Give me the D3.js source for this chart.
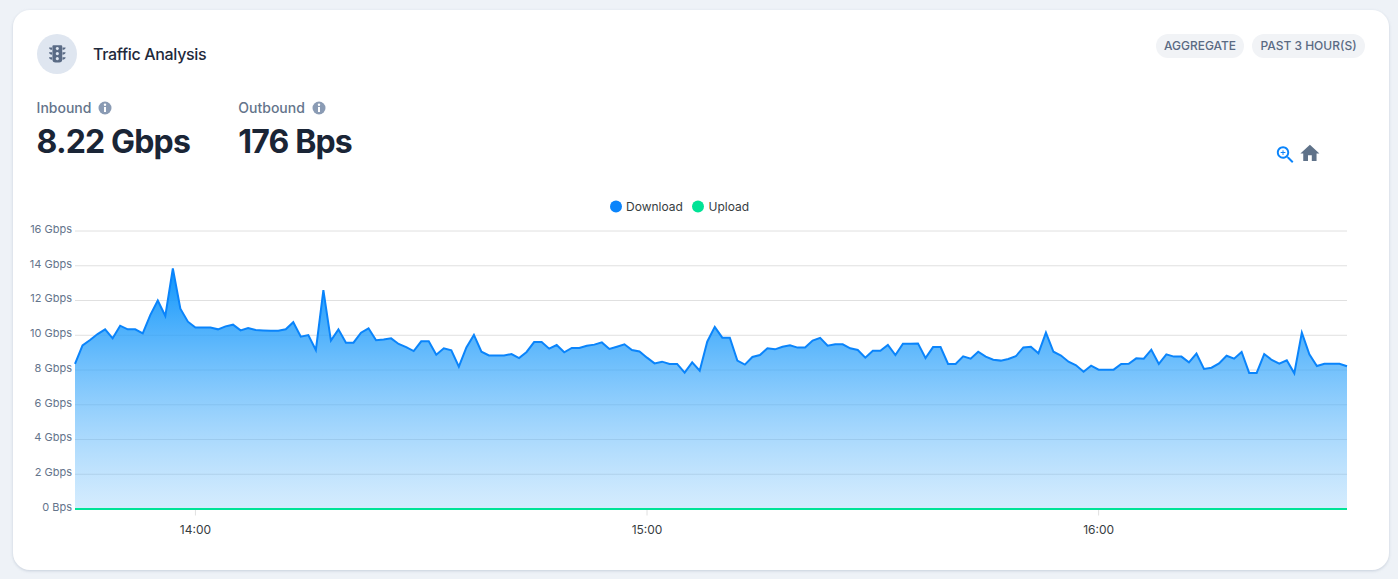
<!DOCTYPE html>
<html><head><meta charset="utf-8">
<script src="https://cdnjs.cloudflare.com/ajax/libs/d3/7.8.5/d3.min.js"></script>
<style>
html,body{margin:0;padding:0;background:#eef2f7;overflow:hidden}
svg{display:block;font-family:Inter,"Noto Sans",sans-serif}
</style></head><body>
<svg id="c" width="1398" height="579"></svg>
<script>
const title = "Traffic Analysis";
const pills = ["AGGREGATE", "PAST 3 HOUR(S)"];
const statLabels = ["Inbound", "Outbound"];
const statValues = ["8.22 Gbps", "176 Bps"];
const seriesNames = ["Download", "Upload"];
const seriesColors = ["#0a84fb", "#00e396"];
const yTickValues = [0, 2, 4, 6, 8, 10, 12, 14, 16];
const yTickLabels = ["0 Bps", "2 Gbps", "4 Gbps", "6 Gbps", "8 Gbps", "10 Gbps", "12 Gbps", "14 Gbps", "16 Gbps"];
const xTickTimes = ["14:00", "15:00", "16:00"];
const firstTime = "13:44";
const lastTime = "16:33";
const download = [
8.35,9.42,9.73,10.07,10.34,9.82,10.55,10.34,10.34,10.11,11.16,12.0,11.11,13.85,11.53,10.78,10.44,10.44,10.44,10.34,
10.51,10.61,10.28,10.42,10.30,10.28,10.26,10.26,10.34,10.75,9.92,10.01,9.15,12.6,9.69,10.34,9.57,9.57,10.15,10.4,
9.71,9.76,9.82,9.50,9.32,9.09,9.65,9.65,8.88,9.25,9.13,8.19,9.30,10.02,9.05,8.84,8.84,8.84,8.92,8.69,
9.04,9.61,9.61,9.23,9.44,9.02,9.27,9.27,9.40,9.46,9.59,9.21,9.34,9.48,9.15,9.07,8.71,8.38,8.48,8.35,
8.35,7.85,8.44,7.96,9.63,10.48,9.86,9.86,8.54,8.31,8.75,8.86,9.25,9.19,9.34,9.42,9.29,9.29,9.69,9.85,
9.40,9.48,9.48,9.25,9.15,8.71,9.11,9.11,9.44,8.86,9.51,9.51,9.53,8.69,9.32,9.32,8.35,8.35,8.79,8.65,
9.05,8.77,8.59,8.54,8.63,8.79,9.30,9.34,8.96,10.15,9.05,8.83,8.48,8.27,7.90,8.25,8.02,8.02,8.02,8.35,
8.36,8.67,8.65,9.17,8.35,8.90,8.77,8.77,8.44,8.95,8.06,8.13,8.38,8.82,8.65,9.04,7.83,7.83,8.92,8.58,
8.36,8.56,7.81,10.15,8.90,8.23,8.36,8.36,8.36,8.22];
const upload = [
0,0,0,0,0,0,0,0,0,0,0,0,0,0,0,0,0,0,0,0,0,0,0,0,0,0,0,0,0,0,0,0,0,0,0,0,0,0,0,0,
0,0,0,0,0,0,0,0,0,0,0,0,0,0,0,0,0,0,0,0,0,0,0,0,0,0,0,0,0,0,0,0,0,0,0,0,0,0,0,0,
0,0,0,0,0,0,0,0,0,0,0,0,0,0,0,0,0,0,0,0,0,0,0,0,0,0,0,0,0,0,0,0,0,0,0,0,0,0,0,0,
0,0,0,0,0,0,0,0,0,0,0,0,0,0,0,0,0,0,0,0,0,0,0,0,0,0,0,0,0,0,0,0,0,0,0,0,0,0,0,0,
0,0,0,0,0,0,0,0,0,0];

const parse = d3.timeParse("%H:%M");
const times = d3.timeMinute.range(parse(firstTime), d3.timeMinute.offset(parse(lastTime), 1));
const svg = d3.select("#c");
const defs = svg.append("defs");
const sh = defs.append("filter").attr("id","sh").attr("x","-2%").attr("y","-2%").attr("width","104%").attr("height","104%");
sh.append("feDropShadow").attr("dx",0).attr("dy",1).attr("stdDeviation",1.5).attr("flood-color","#94a3b8").attr("flood-opacity",0.45);
const grad = defs.append("linearGradient").attr("id","g").attr("x1",0).attr("y1",0).attr("x2",0).attr("y2",1);
grad.append("stop").attr("offset","0%").attr("stop-color","#008ffb").attr("stop-opacity",0.95);
grad.append("stop").attr("offset","100%").attr("stop-color","#7cc4fb").attr("stop-opacity",0.32);

// card
svg.append("rect").attr("x",13).attr("y",10).attr("width",1376).attr("height",560).attr("rx",17).attr("fill","#fff").attr("filter","url(#sh)");

// header icon
svg.append("circle").attr("cx",57).attr("cy",54).attr("r",20).attr("fill","#dfe6f0");
const tl = svg.append("g").attr("transform","translate(49,45.2) scale(0.0325,0.034)").attr("fill","#5a6b85");
tl.append("path").attr("fill-rule","evenodd").attr("d","M105 32 a32 32 0 0 1 32-32 h238 a32 32 0 0 1 32 32 v384 a96 96 0 0 1-96 96 h-110 a96 96 0 0 1-96-96z M256 50 a48 48 0 1 0 .01 0z M256 200 a48 48 0 1 0 .01 0z M256 350 a48 48 0 1 0 .01 0z");
tl.append("path").attr("d","M0 64h96v72C45 136 0 104 0 64z M512 64h-96v72c51 0 96-32 96-72z M0 210h96v72C45 282 0 250 0 210z M512 210h-96v72c51 0 96-32 96-72z M0 356h96v72C45 428 0 396 0 356z M512 356h-96v72c51 0 96-32 96-72z");
svg.append("text").attr("x",93).attr("y",59.5).attr("font-size",16).attr("font-weight",500).attr("letter-spacing","-0.32").attr("fill","#1e293b").text(title);

// pills
const pillBox = [[1156,88],[1252,113]];
pills.forEach((p,i)=>{
  svg.append("rect").attr("x",pillBox[i][0]).attr("y",34).attr("width",pillBox[i][1]).attr("height",24).attr("rx",12).attr("fill","#f1f3f6");
  svg.append("text").attr("x",pillBox[i][0]+pillBox[i][1]/2).attr("y",50).attr("text-anchor","middle").attr("font-size",12).attr("font-weight",500).attr("fill","#5a6a83").text(p);
});

// stats
const statX = [36.6,238.3], infoX=[105,319];
statLabels.forEach((s,i)=>{
  svg.append("text").attr("x",statX[i]).attr("y",113).attr("font-size",14).attr("font-weight",500).attr("fill","#64748b").text(s);
  svg.append("text").attr("x",statX[i]).attr("y",153).attr("font-size",32).attr("font-weight",700).attr("letter-spacing","-0.85").attr("fill","#1a2536").text(statValues[i]);
  const g = svg.append("g").attr("transform",`translate(${infoX[i]},108)`);
  g.append("circle").attr("r",6.5).attr("fill","#8a9bb4");
  g.append("rect").attr("x",-1).attr("y",-1).attr("width",2).attr("height",5).attr("fill","#fff");
  g.append("circle").attr("cy",-3.3).attr("r",1.2).attr("fill","#fff");
});

// toolbar icons
svg.append("g").attr("transform","translate(1274,143.5) scale(0.95)").attr("fill","#0a84fb").selectAll("path")
  .data(["M15.5 14h-.79l-.28-.27C15.41 12.59 16 11.11 16 9.5 16 5.91 13.09 3 9.5 3S3 5.91 3 9.5 5.91 16 9.5 16c1.61 0 3.09-.59 4.23-1.57l.27.28v.79l5 4.99L20.49 19l-4.99-5zm-6 0C7.01 14 5 11.99 5 9.5S7.01 5 9.5 5 14 7.01 14 9.5 11.99 14 9.5 14z","M12 10h-2v2H9v-2H7V9h2V7h1v2h2v1z"])
  .join("path").attr("d",d=>d);
svg.append("path").attr("transform","translate(1298.5,142) scale(0.95)").attr("fill","#5f7289").attr("d","M10 20v-6h4v6h5v-8h3L12 3 2 12h3v8z");

// legend
const legendX = [[616,626],[698,708.5]];
seriesNames.forEach((n,i)=>{
  svg.append("circle").attr("cx",legendX[i][0]).attr("cy",206.5).attr("r",6).attr("fill",seriesColors[i]);
  svg.append("text").attr("x",legendX[i][1]).attr("y",211).attr("font-size",12).attr("fill","#373d3f").text(n);
});

// scales
const x = d3.scaleTime().domain([times[0],times[times.length-1]]).range([75,1347]);
const y = d3.scaleLinear().domain([0,16]).range([509,231]);

// grid
svg.append("g").selectAll("line").data(yTickValues.slice(1)).join("line")
  .attr("x1",75).attr("x2",1347).attr("y1",d=>y(d)).attr("y2",d=>y(d))
  .attr("stroke","#e0e0e0").attr("stroke-width",1);

// y axis
const yAxis = d3.axisLeft(y).tickValues(yTickValues).tickSize(0).tickPadding(0)
  .tickFormat((d,i)=>yTickLabels[i]);
const ya = svg.append("g").attr("transform","translate(72,0)").call(yAxis);
ya.select(".domain").remove();
ya.selectAll("text").attr("font-family","Inter,sans-serif").attr("font-size",11).attr("fill","#64748b").attr("dy","1.3px");

// x axis
const xAxis = d3.axisBottom(x).tickValues(xTickTimes.map(parse)).tickSize(6).tickPadding(10).offset(0).tickFormat(d3.timeFormat("%H:%M"));
const xa = svg.append("g").attr("transform","translate(0,509.5)").call(xAxis);
xa.select(".domain").remove();
xa.selectAll("line").attr("stroke","#e0e0e0");
xa.selectAll("text").attr("font-family","Inter,sans-serif").attr("font-size",12).attr("fill","#373d3f");

// series
const area = d3.area().x((d,i)=>x(times[i])).y0(y(0)).y1(d=>y(d));
const line = d3.line().x((d,i)=>x(times[i])).y(d=>y(d));
svg.append("path").datum(download).attr("d",area).attr("fill","url(#g)");
svg.append("path").datum(download).attr("d",line).attr("fill","none").attr("stroke",seriesColors[0]).attr("stroke-width",2).attr("stroke-linejoin","miter");
svg.append("path").datum(upload).attr("d",line).attr("fill","none").attr("stroke",seriesColors[1]).attr("stroke-width",2);
</script>
</body></html>
